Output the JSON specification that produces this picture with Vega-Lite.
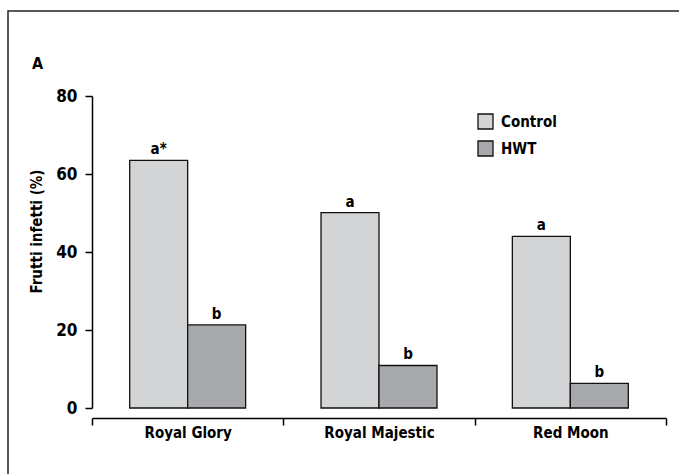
{
  "$schema": "https://vega.github.io/schema/vega-lite/v6.json",
  "autosize": "none",
  "padding": {"left": 8, "top": 11, "right": 0, "bottom": 0},
  "width": 690,
  "height": 480,
  "background": "white",
  "title": {"text": "A", "anchor": "start", "frame": "group", "dx": 24, "dy": 65, "fontSize": 16, "font": "DejaVu Sans Condensed, Roboto, sans-serif", "fontWeight": "bold", "color": "black"},
  "data": {"values": [
    {"cultivar": "Royal Glory", "treatment": "Control", "value": 63.5, "label": "a*"},
    {"cultivar": "Royal Glory", "treatment": "HWT", "value": 21.3, "label": "b"},
    {"cultivar": "Royal Majestic", "treatment": "Control", "value": 50.1, "label": "a"},
    {"cultivar": "Royal Majestic", "treatment": "HWT", "value": 10.9, "label": "b"},
    {"cultivar": "Red Moon", "treatment": "Control", "value": 44.0, "label": "a"},
    {"cultivar": "Red Moon", "treatment": "HWT", "value": 6.3, "label": "b"}
  ]},
  "encoding": {
    "x": {"field": "cultivar", "type": "nominal", "sort": ["Royal Glory", "Royal Majestic", "Red Moon"],
      "scale": {"range": [84, 658], "paddingInner": 0, "paddingOuter": 0},
      "axis": {"title": null, "offset": -73, "labelAngle": 0, "tickBand": "extent", "tickSize": 7, "labelPadding": 0, "labelFontSize": 15, "labelFont": "DejaVu Sans Condensed, Roboto, sans-serif", "labelFontWeight": "bold", "labelColor": "black", "domainColor": "black", "tickColor": "black", "domainWidth": 1.5, "tickWidth": 1.5}},
    "xOffset": {"field": "treatment", "type": "nominal", "scale": {"paddingInner": 0, "paddingOuter": 0.65}},
    "y": {"field": "value", "type": "quantitative",
      "scale": {"domain": [0, 80], "range": [397, 85], "nice": false, "zero": true},
      "axis": {"title": "Frutti infetti (%)", "offset": -84, "values": [0, 20, 40, 60, 80], "grid": false, "tickSize": 7, "labelPadding": 8, "labelFontSize": 17, "labelFont": "DejaVu Sans Condensed, Roboto, sans-serif", "labelFontWeight": "bold", "labelColor": "black", "titleFont": "DejaVu Sans Condensed, Roboto, sans-serif", "titleFontSize": 15, "titleFontWeight": "bold", "titleColor": "black", "titlePadding": 11, "titleY": 220, "domainColor": "black", "tickColor": "black", "domainWidth": 1.5, "tickWidth": 1.5}}
  },
  "layer": [
    {
      "mark": {"type": "bar", "stroke": "#111111", "strokeWidth": 1.3},
      "encoding": {
        "color": {"field": "treatment", "type": "nominal",
          "scale": {"domain": ["Control", "HWT"], "range": ["#d3d4d6", "#a8a9ac"]},
          "legend": {"title": null, "orient": "none", "legendX": 469, "legendY": 102, "symbolType": "square", "symbolSize": 225, "symbolStrokeColor": "#111111", "symbolStrokeWidth": 1.3, "symbolOpacity": 1, "labelFont": "DejaVu Sans Condensed, Roboto, sans-serif", "labelFontSize": 15, "labelFontWeight": "bold", "labelColor": "black", "labelOffset": 7, "rowPadding": 6}}
      }
    },
    {
      "mark": {"type": "text", "baseline": "alphabetic", "dy": -6, "font": "DejaVu Sans Condensed, Roboto, sans-serif", "fontSize": 15, "fontWeight": "bold", "color": "black"},
      "encoding": {"text": {"field": "label"}}
    }
  ],
  "config": {"view": {"stroke": "#222222", "strokeWidth": 1.5}}
}
